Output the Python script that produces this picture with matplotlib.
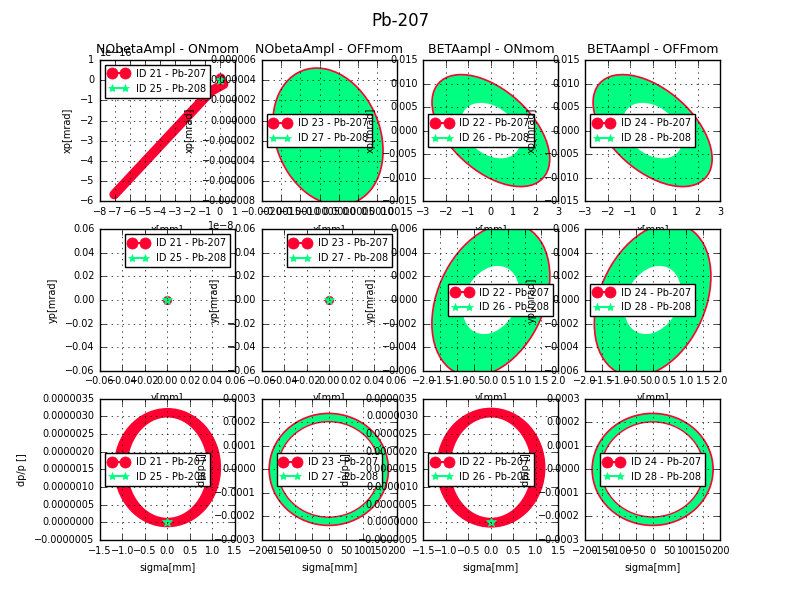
import matplotlib
matplotlib.use('Agg')
import matplotlib.pyplot as plt
import numpy as np
from matplotlib.patches import Circle
from matplotlib.transforms import Affine2D
from matplotlib.ticker import MultipleLocator

# Panel layout: 3 rows (x-xp, y-yp, sigma-dp) by 4 columns (cases)
col_titles = ['NObetaAmpl - ONmom', 'NObetaAmpl - OFFmom', 'BETAampl - ONmom', 'BETAampl - OFFmom']
ids_207 = [21, 23, 22, 24]
ids_208 = [25, 27, 26, 28]
row_xlabels = ['x[mm]', 'y[mm]', 'sigma[mm]']
row_ylabels = ['xp[mrad]', 'yp[mrad]', 'dp/p []']

legend_locs = [['upper left', 'center left', 'center left', 'center left'],
               ['upper right', 'upper right', 'center right', 'center left'],
               ['center left', 'center', 'center left', 'center']]

x_limits = [[(-8e-8, 1e-8), (-0.002, 0.0015), (-3, 3), (-3, 3)],
            [(-0.06, 0.06), (-0.06, 0.06), (-2, 2), (-2, 2)],
            [(-1.5, 1.5), (-200, 200), (-1.5, 1.5), (-200, 200)]]
y_limits = [[(-6e-16, 1e-16), (-8e-6, 6e-6), (-0.015, 0.015), (-0.015, 0.015)],
            [(-0.06, 0.06), (-0.06, 0.06), (-0.006, 0.006), (-0.006, 0.006)],
            [(-5e-7, 3.5e-6), (-3e-4, 3e-4), (-5e-7, 3.5e-6), (-3e-4, 3e-4)]]
x_steps = [[1e-8, 0.0005, 1, 1], [0.02, 0.02, 0.5, 0.5], [0.5, 50, 0.5, 50]]
y_steps = [[1e-16, 2e-6, 0.005, 0.005], [0.02, 0.02, 0.002, 0.002], [5e-7, 1e-4, 5e-7, 1e-4]]

# Phase space rings: center, x half width,
# y half height, y at max x (tilt), and the empty hole inside
ring_row = [0, 0, 0, 1, 1, 2, 2, 2, 2]
ring_col = [1, 2, 3, 2, 3, 0, 1, 2, 3]
ring_ion = ['208', '208', '208', '208', '208', '207', '208', '207', '208']
ring_xc = [-0.00028, 0, 0, 0, 0, 0.0, -1, 0.0, 0]
ring_yc = [-1.6e-6, 0, 0, 0, 0, 1.55e-6, 0, 1.55e-6, 0]
ring_w = [0.00143, 2.62, 2.65, 1.75, 1.73, 1.18, 177, 1.2, 179.5]
ring_h = [6.8e-6, 0.0119, 0.0119, 0.0065, 0.0065, 1.67e-6, 2.38e-4, 1.68e-6, 2.38e-4]
ring_tilt = [-1.4e-6, -0.006, -0.006, 0.002, 0.002, 0, 0, 0, 0]
hole_w = [0, 1.32, 1.32, 0.84, 0.84, 0.89, 151, 0.9, 152]
hole_h = [0, 0.0059, 0.0059, 0.0029, 0.0029, 1.42e-6, 2.03e-4, 1.42e-6, 2.02e-4]
hole_tilt = [0, -0.002, -0.002, 0.0007, 0.0007, 0, 0, 0, 0]
hole_edge = [False, False, False, False, False, False, True, False, True]

# Top left case: Pb-207 collapses to a thin streak
streak_x = [-7.05e-8, -3.5e-8, -0.6e-8, 0.25e-8, 0.05e-8]
streak_y = [-5.67e-16, -2.85e-16, -0.55e-16, -0.2e-16, 0.1e-16]

# Single points at the origin
dot_row = [0, 1, 1, 2, 2]
dot_col = [0, 0, 1, 0, 2]
dot_has_207 = [False, True, True, False, False]
dot_x = [0, 0, 0, 0, 0]
dot_y = [0, 0, 0, 0, 0]

red = '#ff0030'
green = '#00ff80'

plt.style.use('classic')
plt.rcParams['font.size'] = 7
plt.rcParams['axes.titlesize'] = 9
plt.rcParams['legend.fontsize'] = 7
plt.rcParams['figure.facecolor'] = 'white'

fig, axes = plt.subplots(3, 4, figsize=(8, 6), dpi=100)
fig.suptitle('Pb-207', fontsize=12)


def add_ellipse(ax, xc, yc, w, h, tilt, **kw):
    # unit circle mapped onto the tilted ellipse in data coordinates
    k = np.sqrt(h ** 2 - tilt ** 2)
    tr = Affine2D.from_values(w, tilt, 0, k, xc, yc) + ax.transData
    ax.add_patch(Circle((0, 0), 1, transform=tr, **kw))


for i in range(len(ring_row)):
    ax = axes[ring_row[i], ring_col[i]]
    if ring_ion[i] == '208':
        add_ellipse(ax, ring_xc[i], ring_yc[i], ring_w[i], ring_h[i], ring_tilt[i],
                    facecolor=green, edgecolor=red, linewidth=1.2)
    else:
        add_ellipse(ax, ring_xc[i], ring_yc[i], ring_w[i], ring_h[i], ring_tilt[i],
                    facecolor=red, edgecolor=red, linewidth=1.0)
    if hole_w[i] > 0:
        add_ellipse(ax, ring_xc[i], ring_yc[i], hole_w[i], hole_h[i], hole_tilt[i],
                    facecolor='white', edgecolor=red if hole_edge[i] else 'white',
                    linewidth=1.0 if hole_edge[i] else 0)

axes[0, 0].plot(streak_x, streak_y, '-', color=red, lw=7, solid_capstyle='round')

for i in range(len(dot_row)):
    ax = axes[dot_row[i], dot_col[i]]
    if dot_has_207[i]:
        ax.plot(dot_x[i], dot_y[i], 'o', color=red, mec=red, markersize=6)
    ax.plot(dot_x[i], dot_y[i], '*', color=green, mec=green, markersize=7)

for r in range(3):
    for c in range(4):
        ax = axes[r, c]
        # legend entries with the marker style of each ion
        h1, = ax.plot([], [], 'o-', color=red, mec=red, markersize=8, lw=1.5)
        h2, = ax.plot([], [], '*-', color=green, mec=green, markersize=6, lw=1.5)
        ax.legend([h1, h2], ['ID %d - Pb-207' % ids_207[c], 'ID %d - Pb-208' % ids_208[c]],
                  loc=legend_locs[r][c])
        ax.set_xlim(x_limits[r][c])
        ax.set_ylim(y_limits[r][c])
        ax.xaxis.set_major_locator(MultipleLocator(x_steps[r][c]))
        ax.yaxis.set_major_locator(MultipleLocator(y_steps[r][c]))
        ax.grid(True)
        ax.set_xlabel(row_xlabels[r])
        ax.set_ylabel(row_ylabels[r])
        if r == 0:
            ax.set_title(col_titles[c])

plt.savefig('out.png', dpi=100)
